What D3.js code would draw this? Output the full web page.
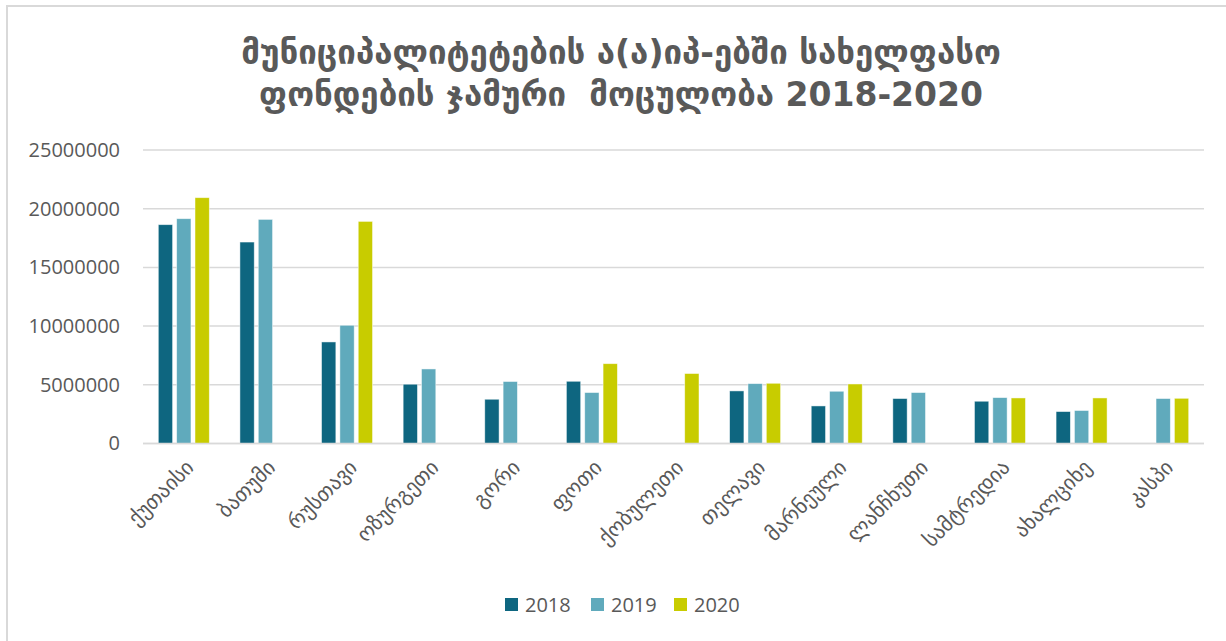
<!DOCTYPE html>
<html>
<head>
<meta charset="utf-8">
<script src="https://cdn.jsdelivr.net/npm/d3@7/dist/d3.min.js"></script>
<style>
  html, body { margin: 0; padding: 0; background: #fff; }
  svg { display: block; }
</style>
</head>
<body>
<svg id="chart" width="1226" height="641"></svg>
<script>
const titleLines = ["მუნიციპალიტეტების ა(ა)იპ-ებში სახელფასო", "ფონდების ჯამური  მოცულობა 2018-2020"];
const categories = ["ქუთაისი", "ბათუმი", "რუსთავი", "ოზურგეთი", "გორი", "ფოთი", "ქობულეთი", "თელავი", "მარნეული", "ლანჩხუთი", "სამტრედია", "ახალციხე", "კასპი"];
const seriesNames = ["2018", "2019", "2020"];
const values2018 = [18640000, 17160000, 8650000, 5050000, 3770000, 5300000, null, 4480000, 3200000, 3830000, 3600000, 2720000, null];
const values2019 = [19150000, 19090000, 10070000, 6350000, 5280000, 4340000, null, 5100000, 4450000, 4340000, 3910000, 2810000, 3830000];
const values2020 = [20940000, null, 18920000, null, null, 6800000, 5960000, 5130000, 5070000, null, 3880000, 3880000, 3850000];
const yTicks = [0, 5000000, 10000000, 15000000, 20000000, 25000000];
const colors = ["#0e6680", "#60aabc", "#c8cc00"];

const seriesValues = [values2018, values2019, values2020];
const svg = d3.select("#chart");
const fontStack = "'Open Sans', 'Noto Sans', 'DejaVu Sans', sans-serif";

// outer border
svg.append("rect").attr("x", 7).attr("y", 6).attr("width", 1240).attr("height", 660)
  .attr("fill", "none").attr("stroke", "#d9d9d9").attr("stroke-width", 2);

const plot = { left: 143, right: 1204, top: 150, bottom: 443.5 };

const x0 = d3.scaleBand().domain(categories).range([plot.left, plot.right])
  .paddingInner(0.375).paddingOuter(0.1875);
const x1 = d3.scaleBand().domain(seriesNames).range([0, x0.bandwidth()]).paddingInner(0.22);
const y = d3.scaleLinear().domain([0, 25000000]).range([plot.bottom, plot.top]);

// gridlines
svg.append("g").selectAll("line").data(yTicks).join("line")
  .attr("x1", plot.left).attr("x2", plot.right)
  .attr("y1", d => y(d)).attr("y2", d => y(d))
  .attr("stroke", "#d9d9d9").attr("stroke-width", 1.5);

// y axis
const yAxis = svg.append("g").attr("transform", `translate(${plot.left},0)`)
  .call(d3.axisLeft(y).tickValues(yTicks).tickSize(0).tickPadding(23).tickFormat(d3.format("d")));
yAxis.select(".domain").remove();
yAxis.selectAll("text").attr("fill", "#595959").style("font-family", fontStack).style("font-size", "20px");

// bars
const groups = svg.append("g").selectAll("g").data(categories).join("g")
  .attr("transform", d => `translate(${x0(d)},0)`);
groups.selectAll("rect")
  .data((c, i) => seriesNames.map((s, k) => ({ s, k, v: seriesValues[k][i] })).filter(d => d.v != null))
  .join("rect")
  .attr("x", d => x1(d.s))
  .attr("width", x1.bandwidth())
  .attr("y", d => y(d.v))
  .attr("height", d => y(0) - y(d.v))
  .attr("fill", d => colors[d.k])
  .attr("stroke", "#ffffff").attr("stroke-opacity", 0.6).attr("stroke-width", 0.8);

// baseline
svg.append("line").attr("x1", plot.left).attr("x2", plot.right)
  .attr("y1", y(0)).attr("y2", y(0)).attr("stroke", "#d9d9d9").attr("stroke-width", 1.5);

// x axis labels
const xAxis = svg.append("g").attr("transform", `translate(0,${plot.bottom})`)
  .call(d3.axisBottom(x0).tickSize(0).tickPadding(0));
xAxis.select(".domain").remove();
xAxis.selectAll("text")
  .attr("fill", "#595959")
  .style("font-family", "'DejaVu Sans', sans-serif").style("font-size", "21px")
  .attr("text-anchor", "end")
  .attr("dy", "0.35em")
  .attr("transform", "translate(6,20) rotate(-45)");

// title
svg.append("g").selectAll("text").data(titleLines).join("text")
  .attr("x", 621).attr("y", (d, i) => 64 + i * 42)
  .attr("text-anchor", "middle")
  .attr("fill", "#595959")
  .attr("xml:space", "preserve")
  .style("white-space", "pre")
  .style("font-family", "'DejaVu Sans', sans-serif").style("font-weight", "bold").style("font-size", "33px")
  .text(d => d);

// legend
const legendX = [505, 591, 674];
const legend = svg.append("g").selectAll("g").data(seriesNames).join("g")
  .attr("transform", (d, i) => `translate(${legendX[i]},598)`);
legend.append("rect").attr("width", 13).attr("height", 13).attr("fill", (d, i) => colors[i]);
legend.append("text").attr("x", 20).attr("y", 7).attr("dy", "0.35em")
  .attr("fill", "#595959").style("font-family", fontStack).style("font-size", "20px")
  .text(d => d);
</script>
</body>
</html>
